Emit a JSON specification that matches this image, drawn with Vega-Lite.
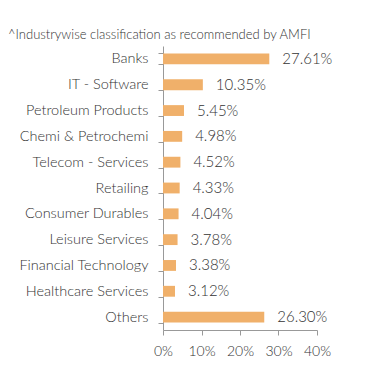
{
  "$schema": "https://vega.github.io/schema/vega-lite/v6.json",
  "width": 154,
  "height": 284,
  "autosize": {"type": "none"},
  "padding": {"left": 163, "top": 46, "right": 74, "bottom": 53},
  "background": "white",
  "title": {
    "text": "^Industrywise classification as recommended by AMFI",
    "anchor": "start",
    "frame": "group",
    "dx": -155,
    "dy": 5,
    "offset": 1,
    "font": "Lato",
    "fontSize": 13,
    "fontWeight": 300,
    "color": "#333333"
  },
  "data": {
    "values": [
      {"industry": "Banks", "share": 0.2761},
      {"industry": "IT - Software", "share": 0.1035},
      {"industry": "Petroleum Products", "share": 0.0545},
      {"industry": "Chemi & Petrochemi", "share": 0.0498},
      {"industry": "Telecom - Services", "share": 0.0452},
      {"industry": "Retailing", "share": 0.0433},
      {"industry": "Consumer Durables", "share": 0.0404},
      {"industry": "Leisure Services", "share": 0.0378},
      {"industry": "Financial Technology", "share": 0.0338},
      {"industry": "Healthcare Services", "share": 0.0312},
      {"industry": "Others", "share": 0.263}
    ]
  },
  "config": {
    "view": {"stroke": null},
    "font": "Lato"
  },
  "encoding": {
    "y": {
      "field": "industry",
      "type": "nominal",
      "sort": null,
      "scale": {"paddingInner": 0.58, "paddingOuter": 0.29},
      "axis": {
        "title": null,
        "tickBand": "extent",
        "domainColor": "#999999",
        "tickColor": "#999999",
        "tickSize": 5,
        "labelPadding": 10,
        "labelFont": "Lato",
        "labelFontSize": 14.5,
        "labelFontWeight": 300,
        "labelColor": "#333333"
      }
    },
    "x": {
      "field": "share",
      "type": "quantitative",
      "scale": {"domain": [0, 0.4], "nice": false},
      "axis": {
        "title": null,
        "format": ".0%",
        "values": [0, 0.1, 0.2, 0.3, 0.4],
        "grid": false,
        "labelFlush": false,
        "labelOverlap": false,
        "domainColor": "#999999",
        "tickColor": "#999999",
        "tickSize": 5,
        "labelPadding": 9,
        "labelFont": "Lato",
        "labelFontSize": 14,
        "labelFontWeight": 300,
        "labelColor": "#333333"
      }
    }
  },
  "layer": [
    {"mark": {"type": "bar", "color": "#F0B06A"}},
    {
      "mark": {"type": "text", "align": "left", "baseline": "middle", "dx": 13, "font": "Lato", "fontSize": 15, "fontWeight": 300, "color": "#333333"},
      "encoding": {"text": {"field": "share", "type": "quantitative", "format": ".2%"}}
    }
  ]
}
